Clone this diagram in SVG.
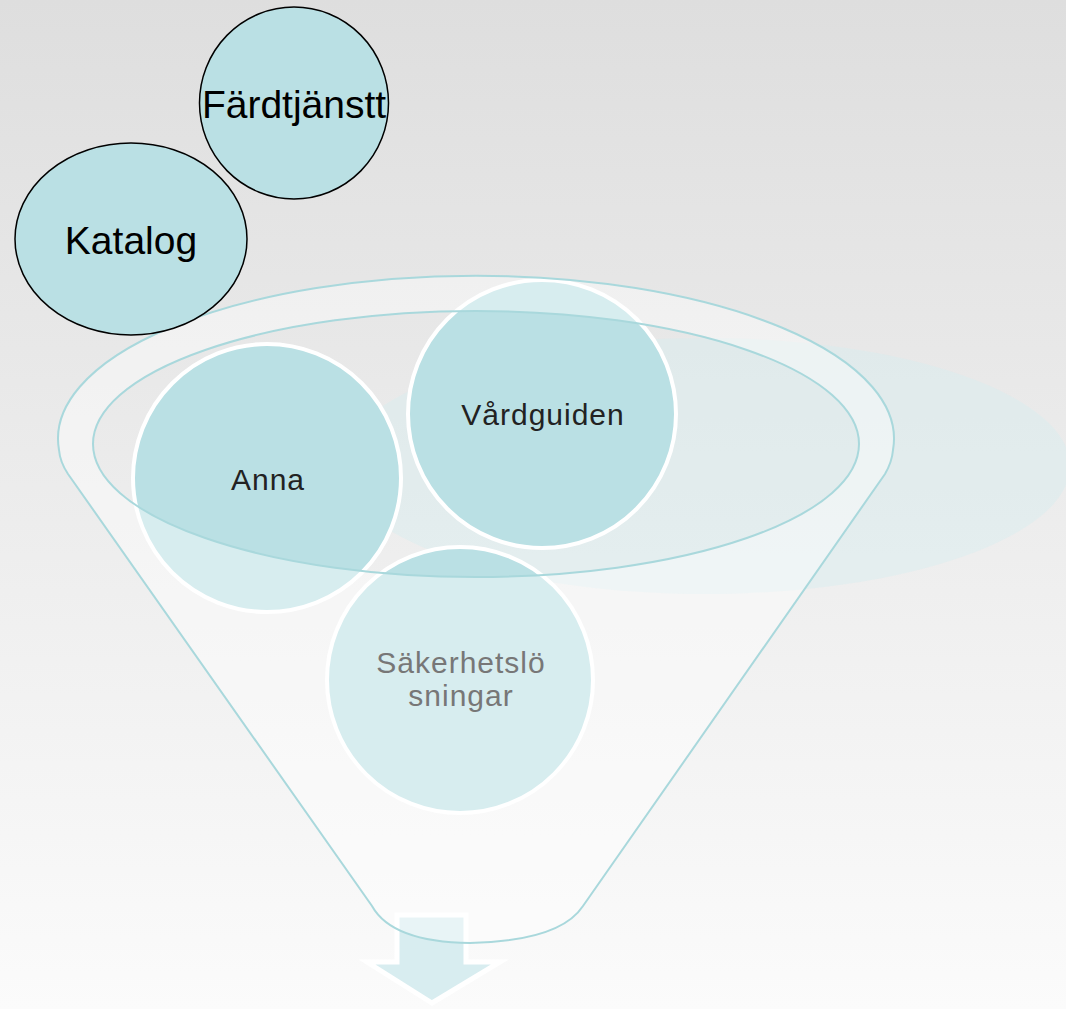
<svg xmlns="http://www.w3.org/2000/svg" width="1066" height="1009" viewBox="0 0 1066 1009">
<defs>
<linearGradient id="bg" x1="0" y1="0" x2="0" y2="1">
<stop offset="0" stop-color="#dedede"/>
<stop offset="1" stop-color="#fbfbfb"/>
</linearGradient>
<clipPath id="innerClip"><ellipse cx="476" cy="444" rx="383" ry="133"/></clipPath>
<style>
.ball{fill:#bae0e4;stroke:#ffffff;stroke-width:4}
.lbl{font-family:"Liberation Sans",Arial,sans-serif;font-size:30px;text-anchor:middle;letter-spacing:1px}
.tag{fill:#bae0e4;stroke:#000000;stroke-width:1.5}
.tagtxt{font-family:"Liberation Sans",Arial,sans-serif;font-size:39px;text-anchor:middle;fill:#000000}
.rim{fill:none;stroke:#a9d8dc;stroke-width:2}
</style>
</defs>
<rect x="0" y="0" width="1066" height="1009" fill="url(#bg)"/>
<ellipse cx="705" cy="466" rx="365" ry="128" fill="#d6eef0" opacity="0.45"/>
<g id="arrow">
<path d="M397,915 L466,915 L466,962 L500,962 L432,1003 L367,962 L397,962 Z" fill="#d8edf0" stroke="#ffffff" stroke-width="5" stroke-linejoin="miter"/>
</g>
<g id="node-anna">
<circle class="ball" cx="267" cy="478" r="134"/>
</g>
<g id="node-vardguiden">
<circle class="ball" cx="542" cy="414" r="134"/>
</g>
<g id="node-sakerhet">
<circle class="ball" cx="460" cy="680" r="133"/>
</g>
<g id="funnel">
<path fill="#ffffff" fill-opacity="0.42" fill-rule="evenodd" d="M59,450 A418,163 0 1 1 893,450 Q892,462 885,474 L583,906 Q560,941 470,943 Q392,942 372,906 L68,474 Q60,462 59,450 Z M93,444 A383,133 0 1 0 859,444 A383,133 0 1 0 93,444 Z"/>
<path class="rim" d="M59,450 A418,163 0 1 1 893,450 Q892,462 885,474 L583,906 Q560,941 470,943 Q392,942 372,906 L68,474 Q60,462 59,450 Z"/>
<ellipse class="rim" cx="476" cy="444" rx="383" ry="133"/>
</g>
<g id="labels">
<text class="lbl" x="268" y="490" fill="#222222">Anna</text>
<text class="lbl" x="543" y="425" fill="#222222">Vårdguiden</text>
<text class="lbl" x="461" y="673" fill="#777777">Säkerhetslö</text>
<text class="lbl" x="461" y="706" fill="#777777">sningar</text>
</g>
<g id="node-fardtjanst">
<ellipse class="tag" cx="294" cy="103" rx="94.5" ry="96"/>
<text class="tagtxt" x="294" y="118">Färdtjänstt</text>
</g>
<g id="node-katalog">
<ellipse class="tag" cx="131" cy="239" rx="116" ry="96"/>
<text class="tagtxt" x="131" y="254">Katalog</text>
</g>
</svg>
